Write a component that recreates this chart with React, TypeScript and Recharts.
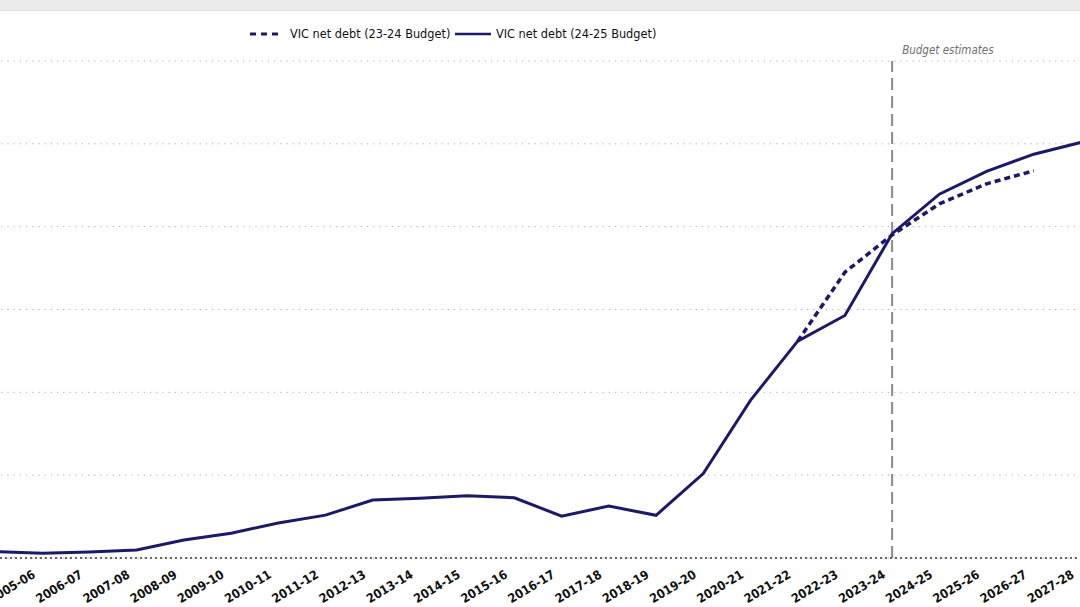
import { CartesianGrid, Legend, Line, LineChart, ReferenceLine, XAxis, YAxis } from 'recharts';

// Financial years shown on the category axis (the first one sits just off the left edge)
const years = [
  '2004-05', '2005-06', '2006-07', '2007-08', '2008-09', '2009-10', '2010-11', '2011-12',
  '2012-13', '2013-14', '2014-15', '2015-16', '2016-17', '2017-18', '2018-19', '2019-20',
  '2020-21', '2021-22', '2022-23', '2023-24', '2024-25', '2025-26', '2026-27', '2027-28',
];

// VIC net debt, $bn (axis labels are cropped)
const debt2425 = [
  3.1, 2.3, 2.9, 3.9, 8.7, 12.0, 16.9, 20.7,
  28.0, 28.8, 30.0, 29.1, 20.2, 25.1, 20.6, 40.8,
  76.1, 104.7, 117.1, 156.6, 175.7, 186.7, 195.0, 200.7,
];

const debt2324 = [
  null, null, null, null, null, null, null, null,
  null, null, null, null, null, null, null, null,
  null, 104.7, 138.0, 156.0, 171.0, 180.7, 187.0, null,
];

const yTicks = [0, 40, 80, 120, 160, 200, 240];

const NAVY = '#1b1968';
const FONT = "'Liberation Sans Narrow', 'DejaVu Sans Condensed', Roboto, sans-serif";

const data = years.map((year, i) => ({
  year,
  budget2425: debt2425[i],
  budget2324: debt2324[i],
}));

function YearTick({ x, y, payload }: any) {
  return (
    <g transform={`translate(${x - 6},${y + 17}) rotate(-31)`}>
      <text textAnchor="end" fontFamily={FONT} fontWeight={700} fontSize={12.5} fill="#111">
        {payload.value}
      </text>
    </g>
  );
}

function BudgetLabel({ viewBox }: any) {
  if (!viewBox) return null;
  return (
    <text
      x={viewBox.x + 10}
      y={viewBox.y - 7}
      fontFamily={FONT}
      fontStyle="italic"
      fontSize={11.5}
      fill="#6f6f6f"
    >
      Budget estimates
    </text>
  );
}

function LegendRow() {
  return (
    <svg width={420} height={20} style={{ display: 'block' }}>
      <line x1={0} y1={10} x2={33} y2={10} stroke={NAVY} strokeWidth={3} strokeDasharray="6 5" />
      <text x={40} y={14} fontFamily={FONT} fontSize={12.6} fill="#111">
        VIC net debt (23-24 Budget)
      </text>
      <line x1={205} y1={10} x2={241} y2={10} stroke={NAVY} strokeWidth={2.5} />
      <text x={246} y={14} fontFamily={FONT} fontSize={12.6} fill="#111">
        VIC net debt (24-25 Budget)
      </text>
    </svg>
  );
}

export default function App() {
  return (
    <div
      style={{
        position: 'fixed',
        left: 0,
        top: 0,
        width: 1080,
        height: 607,
        overflow: 'hidden',
        background: '#fff',
      }}
    >
      <div
        style={{
          position: 'absolute',
          left: 0,
          top: 0,
          width: 1080,
          height: 10,
          background: '#ebebeb',
          borderBottom: '1px solid #e2e2e2',
        }}
      />
      <div style={{ position: 'absolute', left: -5, top: 0 }}>
        <LineChart width={1086} height={607} data={data} margin={{ top: 61, right: 0, bottom: 0, left: 0 }}>
          <CartesianGrid vertical={false} stroke="#aaa" strokeDasharray="1.2 5" />
          <XAxis
            dataKey="year"
            scale="point"
            interval={0}
            height={49}
            tickSize={0}
            tickLine={false}
            tick={<YearTick />}
            axisLine={{ stroke: '#666', strokeWidth: 2.2, strokeDasharray: '2 3' }}
          />
          <YAxis hide domain={[0, 240]} ticks={yTicks} />
          <ReferenceLine
            x="2023-24"
            stroke="#8a8a8a"
            strokeWidth={2}
            strokeDasharray="12 6"
            label={<BudgetLabel />}
          />
          <Legend
            verticalAlign="middle"
            layout="horizontal"
            content={() => <LegendRow />}
            wrapperStyle={{ top: 24, left: 255, width: 420 }}
          />
          <Line
            dataKey="budget2324"
            name="VIC net debt (23-24 Budget)"
            stroke={NAVY}
            strokeWidth={3.5}
            strokeDasharray="6 4"
            dot={false}
            connectNulls={false}
            isAnimationActive={false}
          />
          <Line
            dataKey="budget2425"
            name="VIC net debt (24-25 Budget)"
            stroke={NAVY}
            strokeWidth={3}
            dot={false}
            isAnimationActive={false}
          />
        </LineChart>
      </div>
    </div>
  );
}
